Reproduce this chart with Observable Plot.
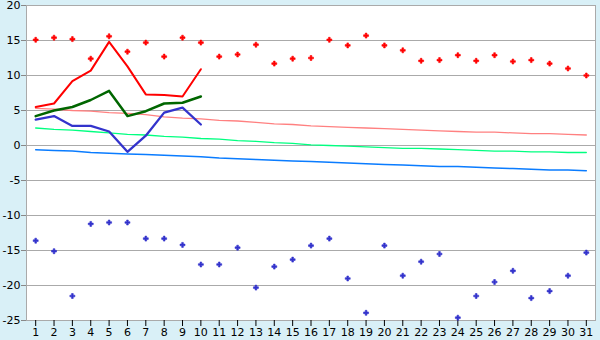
<!DOCTYPE html>
<html>
<head>
<meta charset="utf-8">
<script src="https://cdn.jsdelivr.net/npm/d3@7"></script>
<script src="https://cdn.jsdelivr.net/npm/@observablehq/plot@0.6"></script>
<style>
  html, body { margin: 0; padding: 0; background: #d9f0f7; }
  #chart svg { display: block; }
</style>
</head>
<body>
<div id="chart"></div>
<script>
const days = [1,2,3,4,5,6,7,8,9,10,11,12,13,14,15,16,17,18,19,20,21,22,23,24,25,26,27,28,29,30,31];
const yTicks = [-25,-20,-15,-10,-5,0,5,10,15,20];

// record highs (red markers)
const recordMax = [15.1,15.4,15.2,12.4,15.6,13.4,14.7,12.7,15.4,14.7,12.7,13.0,14.4,11.7,12.4,12.5,15.1,14.3,15.7,14.3,13.6,12.1,12.2,12.9,12.1,12.9,12.0,12.2,11.7,11.0,10.0];
// record lows (blue markers)
const recordMin = [-13.6,-15.1,-21.5,-11.2,-11.0,-11.0,-13.3,-13.3,-14.2,-17.0,-17.0,-14.6,-20.3,-17.3,-16.3,-14.3,-13.3,-19.0,-23.9,-14.3,-18.6,-16.6,-15.5,-24.6,-21.5,-19.5,-17.9,-21.8,-20.8,-18.6,-15.3];

// observed days 1-10
const obsDays = [1,2,3,4,5,6,7,8,9,10];
const obsMax = [5.5,6.0,9.2,10.7,14.8,11.3,7.3,7.2,7.0,10.9];
const obsMean = [4.2,5.0,5.5,6.5,7.8,4.2,4.9,6.0,6.1,7.0];
const obsMin = [3.7,4.2,2.8,2.8,2.0,-0.9,1.4,4.7,5.4,3.0];

// normals
const normMax = [5.3,5.2,5.0,4.9,4.7,4.6,4.4,4.1,3.9,3.8,3.6,3.5,3.3,3.1,3.0,2.8,2.7,2.6,2.5,2.4,2.3,2.2,2.1,2.0,1.9,1.9,1.8,1.7,1.7,1.6,1.5];
const normMean = [2.5,2.3,2.2,2.0,1.8,1.6,1.5,1.3,1.2,1.0,0.9,0.7,0.6,0.4,0.3,0.1,0.0,-0.1,-0.2,-0.3,-0.4,-0.4,-0.5,-0.6,-0.7,-0.8,-0.8,-0.9,-0.9,-1.0,-1.0];
const normMin = [-0.6,-0.7,-0.8,-1.0,-1.1,-1.2,-1.3,-1.4,-1.5,-1.6,-1.8,-1.9,-2.0,-2.1,-2.2,-2.3,-2.4,-2.5,-2.6,-2.7,-2.8,-2.9,-3.0,-3.0,-3.1,-3.2,-3.3,-3.4,-3.5,-3.5,-3.6];

const full = days.map((d, i) => ({day: d, rmax: recordMax[i], rmin: recordMin[i], nmax: normMax[i], nmean: normMean[i], nmin: normMin[i]}));
const obs = obsDays.map((d, i) => ({day: d, max: obsMax[i], mean: obsMean[i], min: obsMin[i]}));

const chart = Plot.plot({
  width: 600,
  height: 340,
  marginLeft: 26,
  marginRight: 5,
  marginTop: 5,
  marginBottom: 20,
  style: {background: "#d9f0f7", fontFamily: "DejaVu Sans", fontSize: "11px", color: "#000"},
  x: {type: "linear", domain: [0.5, 31.5]},
  y: {domain: [-25, 20]},
  marks: [
    Plot.frame({fill: "white", stroke: "none"}),
    Plot.ruleY(yTicks, {stroke: "#aaaaaa", strokeWidth: 1}),
    Plot.frame({stroke: "#aaaaaa", strokeWidth: 1}),
    Plot.axisY({ticks: yTicks, tickSize: 5, tickPadding: 1, tickFormat: d => String(d), stroke: "#888", label: null, fill: "#000"}),
    Plot.axisX({ticks: days, tickSize: 6, tickPadding: 2, tickFormat: d => String(d), label: null, fill: "#000", stroke: "#000"}),
    Plot.line(full, {x: "day", y: "nmax", stroke: "#ff8080", strokeWidth: 1.3}),
    Plot.line(full, {x: "day", y: "nmean", stroke: "#00ff80", strokeWidth: 1.3}),
    Plot.line(full, {x: "day", y: "nmin", stroke: "#0a7cff", strokeWidth: 1.5}),
    Plot.line(obs, {x: "day", y: "max", stroke: "#ff0000", strokeWidth: 2}),
    Plot.line(obs, {x: "day", y: "mean", stroke: "#006600", strokeWidth: 2.5}),
    Plot.line(obs, {x: "day", y: "min", stroke: "#3333cc", strokeWidth: 2.3}),
    Plot.dot(full, {x: "day", y: "rmax", symbol: "cross", r: 2.1, fill: "#ff0000", stroke: "#ff0000", strokeWidth: 0.6}),
    Plot.dot(full, {x: "day", y: "rmin", symbol: "cross", r: 2.1, fill: "#3333cc", stroke: "#3333cc", strokeWidth: 0.6})
  ]
});
document.getElementById("chart").appendChild(chart);
</script>
</body>
</html>
